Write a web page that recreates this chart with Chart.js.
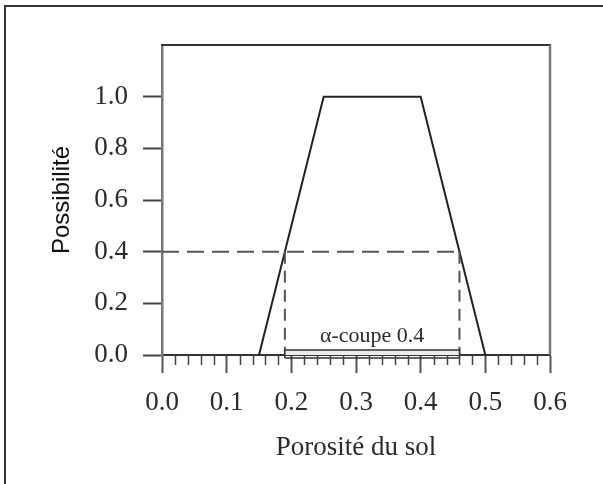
<!DOCTYPE html>
<html>
<head>
<meta charset="utf-8">
<script src="https://cdn.jsdelivr.net/npm/chart.js@4"></script>
<style>
  html, body { margin: 0; padding: 0; background: #fff; }
  #graphe { display: block; }
</style>
</head>
<body>
<canvas id="graphe" width="603" height="484"></canvas>
<script>
// Données : nombre flou trapézoïdal de la porosité
const porosite    = [0.15, 0.25, 0.40, 0.50];
const possibilite = [0,    1,    1,    0];

// alpha-coupe au niveau 0.4
const alphaNiveau  = 0.4;
const coupeBornes  = [0.19, 0.46];      // bornes de l'intervalle coupé
const coupeBande   = [-0.012, 0.019];   // épaisseur de la barre sous l'axe
const coupeTexte   = 'α-coupe 0.4';

// Graduations
const xTickLabels = ['0.0', '0.1', '0.2', '0.3', '0.4', '0.5', '0.6'];
const yTickLabels = ['0.0', '0.2', '0.4', '0.6', '0.8', '1.0'];

const SERIF = "'Liberation Serif', 'Times New Roman', serif";
const SANS_NARROW = "'Liberation Sans Narrow', 'Liberation Sans', Arial, sans-serif";
const ENCRE = '#2b2b2b';

// Points des séries (construits à partir des tableaux ci-dessus)
const trapeze = porosite.map((x, i) => ({ x, y: possibilite[i] }));
const ligneAlpha = [{ x: 0, y: alphaNiveau }, { x: coupeBornes[1], y: alphaNiveau }];
const verticaleG = [{ x: coupeBornes[0], y: alphaNiveau }, { x: coupeBornes[0], y: 0 }];
const verticaleD = [{ x: coupeBornes[1], y: alphaNiveau }, { x: coupeBornes[1], y: 0 }];
const bande = [
  { x: coupeBornes[0], y: coupeBande[0] },
  { x: coupeBornes[1], y: coupeBande[0] },
  { x: coupeBornes[1], y: coupeBande[1] },
  { x: coupeBornes[0], y: coupeBande[1] },
  { x: coupeBornes[0], y: coupeBande[0] }
];

// Cadre, graduations secondaires et étiquette de la coupe
const decorPlugin = {
  id: 'decor',
  afterDraw(chart) {
    const { ctx, chartArea: a, scales: { x, y } } = chart;
    ctx.save();

    // cadre extérieur de la figure
    ctx.strokeStyle = '#333';
    ctx.lineWidth = 2;
    ctx.beginPath();
    ctx.moveTo(5, 484);
    ctx.lineTo(5, 6);
    ctx.lineTo(603, 6);
    ctx.stroke();

    // haut et droite de la boîte
    ctx.beginPath();
    ctx.moveTo(a.left - 1, a.top);
    ctx.lineTo(a.right + 1, a.top);
    ctx.stroke();
    ctx.strokeStyle = '#777';
    ctx.lineWidth = 2.5;
    ctx.beginPath();
    ctx.moveTo(a.right, a.top);
    ctx.lineTo(a.right, a.bottom);
    ctx.stroke();

    // graduations secondaires (pas de 0.02)
    const y0 = y.getPixelForValue(0);
    ctx.strokeStyle = '#444';
    ctx.lineWidth = 1.5;
    ctx.beginPath();
    for (let i = 1; i < 30; i++) {
      if (i % 5 === 0) continue;
      const px = Math.round(x.getPixelForValue(i * 0.02)) + 0.5;
      ctx.moveTo(px, y0);
      ctx.lineTo(px, y0 + 10);
    }
    ctx.stroke();

    // texte de l'alpha-coupe
    ctx.fillStyle = ENCRE;
    ctx.font = '22px ' + SERIF;
    ctx.textAlign = 'center';
    ctx.textBaseline = 'alphabetic';
    const cx = x.getPixelForValue((coupeBornes[0] + coupeBornes[1]) / 2);
    ctx.fillText(coupeTexte, cx, y.getPixelForValue(0.05));

    ctx.restore();
  }
};

const ligne = (data, extra) => Object.assign({
  data,
  showLine: true,
  pointRadius: 0,
  pointHoverRadius: 0,
  fill: false,
  clip: false,
  tension: 0
}, extra);

new Chart(document.getElementById('graphe'), {
  type: 'scatter',
  data: {
    datasets: [
      ligne(bande, { borderColor: '#333', borderWidth: 1.5, backgroundColor: '#ececec', fill: 'shape' }),
      ligne(ligneAlpha, { borderColor: '#555', borderWidth: 2, borderDash: [17, 8] }),
      ligne(verticaleG, { borderColor: '#555', borderWidth: 2, borderDash: [12, 7] }),
      ligne(verticaleD, { borderColor: '#555', borderWidth: 2, borderDash: [12, 7] }),
      ligne(trapeze, { borderColor: '#222', borderWidth: 2 })
    ]
  },
  options: {
    responsive: false,
    animation: false,
    devicePixelRatio: 1,
    layout: { padding: { left: 5, top: 45, right: 53, bottom: 0 } },
    plugins: {
      legend: { display: false },
      tooltip: { enabled: false }
    },
    scales: {
      x: {
        type: 'linear',
        min: 0,
        max: 0.6,
        afterFit: s => { s.height = 129; },
        ticks: {
          stepSize: 0.1,
          padding: 14,
          color: ENCRE,
          font: { family: SERIF, size: 27 },
          maxRotation: 0,
          autoSkip: false,
          callback: (v, i) => xTickLabels[i]
        },
        grid: { drawOnChartArea: false, drawTicks: true, tickLength: 18, tickColor: '#555', tickWidth: 2 },
        border: { display: true, color: '#333', width: 2 },
        title: {
          display: true,
          text: 'Porosité du sol',
          color: ENCRE,
          font: { family: SERIF, size: 27 },
          padding: { top: 0, bottom: 20 }
        }
      },
      y: {
        type: 'linear',
        min: 0,
        max: 1.2,
        afterFit: s => { s.width = 157; },
        afterBuildTicks: s => { s.ticks = s.ticks.filter(t => t.value <= 1.0001); },
        ticks: {
          stepSize: 0.2,
          padding: 15,
          color: ENCRE,
          font: { family: SERIF, size: 27 },
          callback: (v, i) => yTickLabels[i]
        },
        grid: { drawOnChartArea: false, drawTicks: true, tickLength: 19, tickColor: '#444', tickWidth: 2 },
        border: { display: true, color: '#777', width: 2.5 },
        title: {
          display: true,
          text: 'Possibilité',
          color: '#111',
          font: { family: SANS_NARROW, size: 24 },
          padding: { top: 43, bottom: 0 }
        }
      }
    }
  },
  plugins: [decorPlugin]
});
</script>
</body>
</html>
